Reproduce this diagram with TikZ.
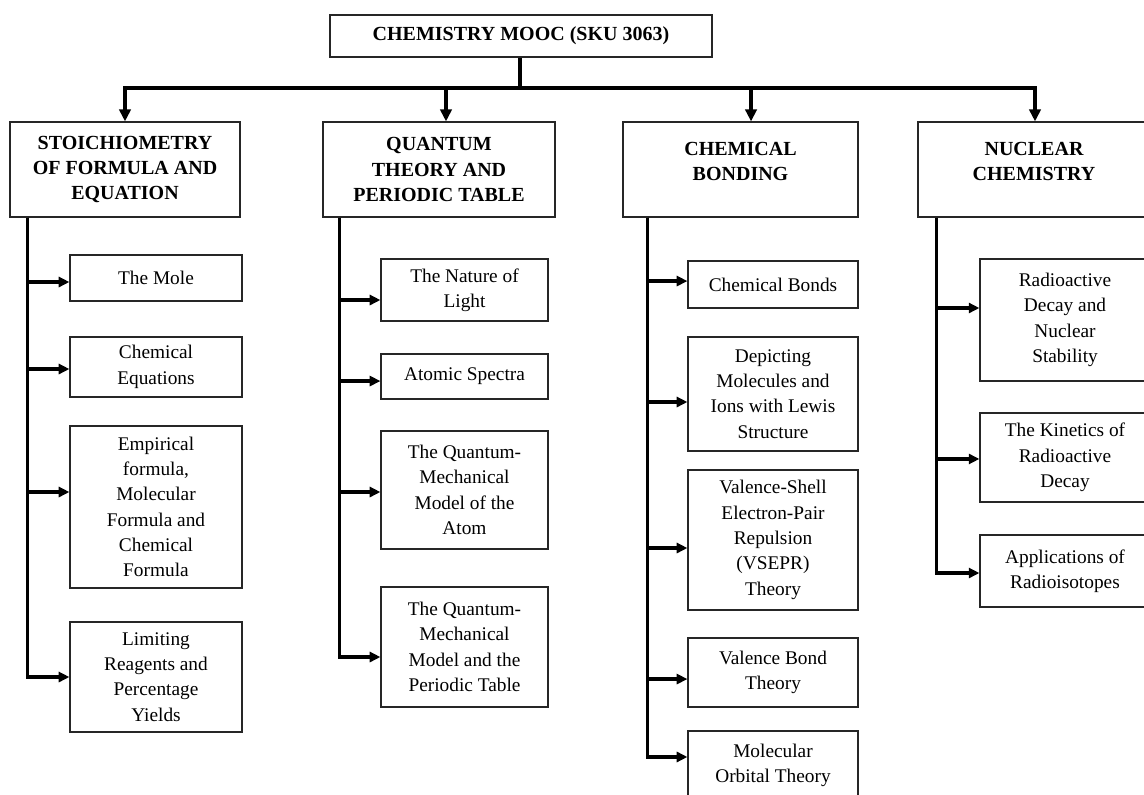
\documentclass[tikz,border=0pt]{standalone}
\usepackage{fontspec}
\setmainfont{Liberation Serif}
\usetikzlibrary{arrows.meta,calc}
\newcommand\mkbox[7]{\node[#1, minimum width={(#5-#3)*0.75pt}, minimum height={(#6-#4)*0.75pt}] (#2) at ({(#3+#5)/2},{(#4+#6)/2}) {#7};}
\begin{document}
\begin{tikzpicture}[x=0.75pt,y=-0.75pt,
  basebox/.style={draw=black!85, line width=0.9pt, inner sep=0pt, align=center, text=black},
  topbox/.style={basebox, font=\fontsize{15}{19}\selectfont\bfseries},
  headbox/.style={basebox, font=\fontsize{15}{19}\selectfont\bfseries},
  kidbox/.style={basebox, font=\fontsize{14.5}{19}\selectfont},
  conn/.style={line width=2.6pt, draw=black},
  arr/.style={conn, -{Triangle[length=9pt,width=8.5pt]}},
  karr/.style={conn, -{Triangle[length=8pt,width=7.5pt]}}]
\useasboundingbox (0,0) rectangle (1144,794);
\clip (0,0) rectangle (1144,794);
\fill[white] (0,0) rectangle (1144,794);

% title
\mkbox{topbox}{title}{330}{15}{712}{57}{CHEMISTRY MOOC (SKU 3063)}

% headers
\mkbox{headbox}{stoich}{10}{122}{240}{217}{STOICHIOMETRY\\OF FORMULA AND\\EQUATION}
\mkbox{headbox}{quant}{323}{122}{555}{217}{QUANTUM\\THEORY AND\\PERIODIC TABLE}
\mkbox{headbox}{bond}{623}{122}{858}{217}{CHEMICAL\\BONDING\\[-7pt]\mbox{}}
\mkbox{headbox}{nucl}{918}{122}{1150}{217}{NUCLEAR\\CHEMISTRY\\[-7pt]\mbox{}}

% stoichiometry children
\mkbox{kidbox}{mole}{70}{255}{242}{301}{The Mole}
\mkbox{kidbox}{cheq}{70}{337}{242}{397}{Chemical\\Equations}
\mkbox{kidbox}{empf}{70}{426}{242}{588}{Empirical\\formula,\\Molecular\\Formula and\\Chemical\\Formula}
\mkbox{kidbox}{limr}{70}{622}{242}{732}{Limiting\\Reagents and\\Percentage\\Yields}

% quantum children
\mkbox{kidbox}{light}{381}{259}{548}{321}{The Nature of\\Light}
\mkbox{kidbox}{spec}{381}{354}{548}{399}{Atomic Spectra}
\mkbox{kidbox}{qmatom}{381}{431}{548}{549}{The Quantum-\\Mechanical\\Model of the\\Atom}
\mkbox{kidbox}{qmtab}{381}{587}{548}{707}{The Quantum-\\Mechanical\\Model and the\\Periodic Table}

% bonding children
\mkbox{kidbox}{bonds}{688}{261}{858}{308}{Chemical Bonds}
\mkbox{kidbox}{lewis}{688}{337}{858}{451}{Depicting\\Molecules and\\Ions with Lewis\\Structure}
\mkbox{kidbox}{vsepr}{688}{470}{858}{610}{Valence-Shell\\Electron-Pair\\Repulsion\\(VSEPR)\\Theory}
\mkbox{kidbox}{vbt}{688}{638}{858}{707}{Valence Bond\\Theory}
\mkbox{kidbox}{mot}{688}{731}{858}{800}{Molecular\\Orbital Theory}

% nuclear children
\mkbox{kidbox}{decay}{980}{259}{1150}{381}{Radioactive\\Decay and\\Nuclear\\Stability}
\mkbox{kidbox}{kin}{980}{413}{1150}{502}{The Kinetics of\\Radioactive\\Decay}
\mkbox{kidbox}{appl}{980}{535}{1150}{607}{Applications of\\Radioisotopes}

% top distribution
\coordinate (hub) at (520,88);
\draw[conn] (title.south -| hub) -- (hub);
\draw[arr] (hub) -| (stoich.north);
\draw[arr] (hub) -| ([xshift=5.25pt]quant.north);
\draw[arr] (hub) -| ([xshift=7.9pt]bond.north);
\draw[arr] (hub) -| ([xshift=0.75pt]nucl.north);

% trunks
\coordinate (sT) at ($(stoich.south west)+(18,0)$);
\coordinate (qT) at ($(quant.south west)+(17,0)$);
\coordinate (bT) at ($(bond.south west)+(25,0)$);
\coordinate (nT) at ($(nucl.south west)+(19,0)$);

\draw[karr] (sT) |- ([yshift=-3pt]mole.west);
\draw[karr] (sT) |- ([yshift=-1.5pt]cheq.west);
\draw[karr] (sT) |- ([yshift=11.25pt]empf.west);
\draw[karr] (sT) |- (limr.west);

\draw[karr] (qT) |- ([yshift=-7.5pt]light.west);
\draw[karr] (qT) |- ([yshift=-3.4pt]spec.west);
\draw[karr] (qT) |- ([yshift=-1.5pt]qmatom.west);
\draw[karr] (qT) |- ([yshift=-7.5pt]qmtab.west);

\draw[karr] (bT) |- ([yshift=2.6pt]bonds.west);
\draw[karr] (bT) |- ([yshift=-6pt]lewis.west);
\draw[karr] (bT) |- ([yshift=-6pt]vsepr.west);
\draw[karr] (bT) |- ([yshift=-4.9pt]vbt.west);
\draw[karr] (bT) |- ([yshift=6.4pt]mot.west);

\draw[karr] (nT) |- ([yshift=9pt]decay.west);
\draw[karr] (nT) |- ([yshift=-1.1pt]kin.west);
\draw[karr] (nT) |- ([yshift=-1.5pt]appl.west);
\end{tikzpicture}
\end{document}
